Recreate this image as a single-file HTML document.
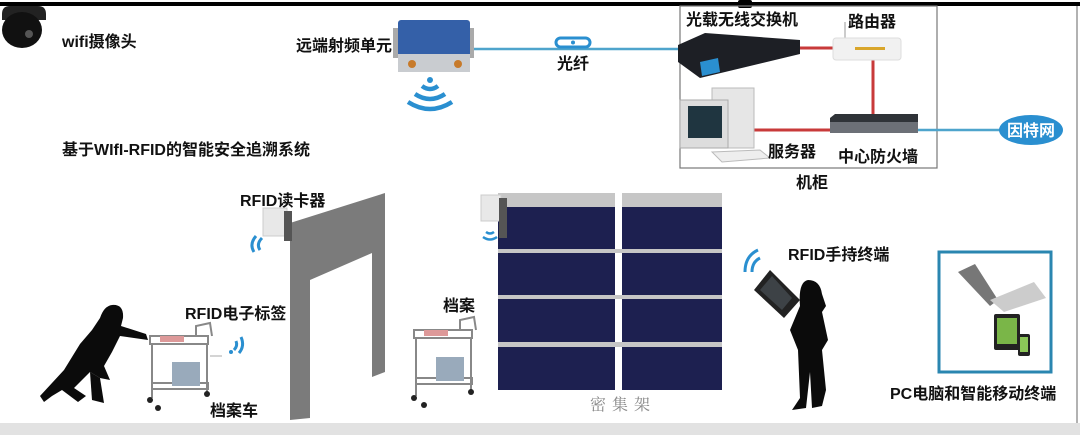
<!DOCTYPE html>
<html><head><meta charset="utf-8"><style>
html,body{margin:0;padding:0;background:#fff;}
svg{display:block;}
text{font-family:"Liberation Sans","Noto Sans CJK SC",sans-serif;font-weight:bold;fill:#111;font-size:16px;}
</style></head><body>
<svg width="1080" height="435" viewBox="0 0 1080 435" xmlns="http://www.w3.org/2000/svg">
<rect width="1080" height="435" fill="#fff"/>
<rect x="0" y="2" width="1080" height="4" fill="#000"/>
<rect x="738" y="0" width="14" height="8" rx="2" fill="#000"/>
<line x1="1077" y1="6" x2="1077" y2="425" stroke="#999" stroke-width="1.5"/>
<rect x="0" y="423" width="1080" height="12" fill="#e2e2e2"/>

<!-- camera -->
<path d="M2 14 Q2 6 10 6 L38 6 Q46 6 46 14 L46 20 L2 20 Z" fill="#222"/>
<ellipse cx="22" cy="30" rx="20" ry="18" fill="#111"/>
<circle cx="29" cy="34" r="4" fill="#555"/>
<text x="62" y="47" font-size="16">wifi摄像头</text>

<!-- remote RF unit -->
<text x="392" y="51" font-size="16" text-anchor="end">远端射频单元</text>
<rect x="393" y="28" width="14" height="30" fill="#aaa"/>
<rect x="460" y="28" width="14" height="30" fill="#aaa"/>
<rect x="398" y="20" width="72" height="40" rx="3" fill="#3460a8"/>
<rect x="398" y="54" width="72" height="18" fill="#c9ccd0"/>
<circle cx="412" cy="64" r="4" fill="#c77a2a"/><circle cx="458" cy="64" r="4" fill="#c77a2a"/>
<g fill="none" stroke="#2a8fd0" stroke-width="4.5">
<path d="M422 86 Q430 92 438 86"/>
<path d="M415 94 Q430 104 445 94"/>
<path d="M408 102 Q430 116 452 102"/>
</g>
<circle cx="430" cy="80" r="3" fill="#2a8fd0"/>

<!-- fiber -->
<line x1="474" y1="49" x2="680" y2="49" stroke="#4ea4cc" stroke-width="2.5"/>
<rect x="556" y="38" width="34" height="9" rx="4.5" fill="#fff" stroke="#2a8fd0" stroke-width="3"/>
<circle cx="573" cy="42.5" r="2" fill="#2a8fd0"/>
<text x="557" y="69" font-size="16">光纤</text>

<!-- cabinet -->
<rect x="680" y="6" width="257" height="162" fill="none" stroke="#777" stroke-width="1.2"/>
<text x="796" y="188" font-size="16">机柜</text>
<text x="686" y="25" font-size="16">光载无线交换机</text>
<text x="848" y="27" font-size="16">路由器</text>
<polygon points="678,45 705,33 800,40 800,54 700,78 678,62" fill="#1d1f25"/>
<polygon points="700,62 718,58 720,72 702,76" fill="#2a8fd0"/>
<line x1="800" y1="48" x2="835" y2="48" stroke="#c83a3a" stroke-width="3"/>
<line x1="873" y1="60" x2="873" y2="118" stroke="#c83a3a" stroke-width="3"/>
<line x1="752" y1="130" x2="830" y2="130" stroke="#c83a3a" stroke-width="3"/>
<line x1="845" y1="22" x2="845" y2="42" stroke="#bbb" stroke-width="1.5"/>
<rect x="833" y="38" width="68" height="22" rx="3" fill="#f1f1f1" stroke="#ddd"/>
<rect x="855" y="47" width="30" height="3" fill="#d9a62b"/>
<polygon points="830,118 835,114 918,114 918,126 830,133" fill="#2f3338"/>
<rect x="830" y="122" width="88" height="11" fill="#6c7077"/>
<rect x="712" y="88" width="42" height="60" fill="#e6e6e6" stroke="#bbb"/>
<rect x="680" y="100" width="48" height="48" fill="#ddd" stroke="#aaa"/>
<rect x="688" y="106" width="34" height="32" fill="#1f3540"/>
<polygon points="712,152 760,150 770,158 722,162" fill="#eee" stroke="#bbb"/>
<text x="768" y="157" font-size="16">服务器</text>
<text x="838" y="162" font-size="16">中心防火墙</text>
<line x1="918" y1="130" x2="1000" y2="130" stroke="#4ea4cc" stroke-width="2.5"/>
<ellipse cx="1031" cy="130" rx="32" ry="15" fill="#2a8fd0"/>
<text x="1031" y="136" font-size="15" text-anchor="middle" style="fill:#fff">因特网</text>

<text x="62" y="155" font-size="15.5">基于WIfI-RFID的智能安全追溯系统</text>

<!-- door -->
<path d="M290 223 L385 193 L385 372 L372 377 L372 253 L310 280 L310 418 L290 420 Z" fill="#7b7b7b"/>
<text x="240" y="206" font-size="16">RFID读卡器</text>
<rect x="263" y="208" width="24" height="28" fill="#e8e8e8" stroke="#ccc"/>
<rect x="284" y="211" width="8" height="30" fill="#555"/>
<g fill="none" stroke="#2a8fd0" stroke-width="3">
<path d="M262 238 Q256 244 260 250"/><path d="M256 236 Q249 244 254 252"/>
</g>

<!-- racks -->
<g>
<rect x="498" y="193" width="117" height="14" fill="#c6c6c6"/>
<rect x="622" y="193" width="100" height="14" fill="#c6c6c6"/>
<rect x="498" y="207" width="117" height="42" fill="#1d2050"/>
<rect x="622" y="207" width="100" height="42" fill="#1d2050"/>
<rect x="498" y="253" width="117" height="42" fill="#1d2050"/>
<rect x="622" y="253" width="100" height="42" fill="#1d2050"/>
<rect x="498" y="299" width="117" height="43" fill="#1d2050"/>
<rect x="622" y="299" width="100" height="43" fill="#1d2050"/>
<rect x="498" y="347" width="117" height="43" fill="#1d2050"/>
<rect x="622" y="347" width="100" height="43" fill="#1d2050"/>
<rect x="498" y="249" width="224" height="4" fill="#c6c6c6"/>
<rect x="498" y="295" width="224" height="4" fill="#c6c6c6"/>
<rect x="498" y="342" width="224" height="5" fill="#c6c6c6"/>
</g>
<text x="590" y="410" font-size="14" style="font-weight:normal;fill:#888;font-family:'Liberation Serif','Noto Serif CJK SC',serif" letter-spacing="6">密集架</text>
<rect x="481" y="195" width="20" height="26" fill="#e8e8e8" stroke="#ccc"/>
<rect x="499" y="198" width="8" height="40" fill="#555"/>
<g fill="none" stroke="#2a8fd0" stroke-width="2.5">
<path d="M486 232 Q490 235 494 232"/><path d="M483 237 Q490 242 497 237"/>
</g>
<text x="443" y="311" font-size="16">档案</text>

<!-- carts -->
<g fill="none" stroke="#888" stroke-width="2">
<rect x="150" y="336" width="58" height="8"/>
<rect x="152" y="383" width="56" height="6"/>
<line x1="152" y1="344" x2="152" y2="398"/><line x1="207" y1="344" x2="207" y2="392"/>
<path d="M196 336 L196 326 L210 323 L212 336"/>
<rect x="414" y="330" width="58" height="8"/>
<rect x="416" y="378" width="56" height="6"/>
<line x1="416" y1="338" x2="416" y2="396"/><line x1="471" y1="338" x2="471" y2="390"/>
<path d="M460 330 L460 320 L474 317 L476 330"/>
</g>
<rect x="172" y="362" width="28" height="24" fill="#9ab"/><rect x="436" y="357" width="28" height="24" fill="#9ab"/>
<rect x="160" y="336" width="24" height="6" fill="#d99"/><rect x="424" y="330" width="24" height="6" fill="#d99"/>
<g fill="#222"><circle cx="150" cy="400" r="3"/><circle cx="158" cy="408" r="3"/><circle cx="207" cy="394" r="3"/><circle cx="414" cy="398" r="3"/><circle cx="424" cy="405" r="3"/><circle cx="471" cy="392" r="3"/></g>
<text x="185" y="319" font-size="16">RFID电子标签</text>
<g fill="none" stroke="#2a8fd0" stroke-width="3">
<path d="M234 350 Q238 346 236 341"/><path d="M239 353 Q245 346 241 337"/>
</g>
<circle cx="231" cy="352" r="2" fill="#2a8fd0"/>
<line x1="210" y1="356" x2="222" y2="356" stroke="#aaa"/>
<text x="210" y="416" font-size="16">档案车</text>

<!-- man -->
<path d="M112 305 Q124 304 123 318 L121 326 L146 334 L148 340 L120 336 L112 352 L104 366 L110 380 L100 378 L90 372 L74 388 L86 396 L78 402 L62 390 L52 396 L44 402 L40 396 L64 370 L80 344 L92 330 L100 318 Q104 306 112 305 Z" fill="#0b0b0b"/>
<path d="M90 372 L92 400 L104 403 L100 378 Z" fill="#0b0b0b"/>

<!-- woman + phone -->
<path d="M808 280 Q820 280 822 294 L826 306 L822 312 L828 340 L822 350 L826 390 L822 406 L812 408 L810 372 L806 408 L792 410 L800 398 L798 350 L790 330 L800 306 Q798 282 808 280 Z" fill="#0b0b0b"/>
<polygon points="754,290 770,270 800,300 784,318" fill="#222"/>
<polygon points="760,290 772,276 792,298 782,310" fill="#3d4246"/>
<g fill="none" stroke="#2a8fd0" stroke-width="3">
<path d="M752 272 Q752 262 760 258"/><path d="M745 272 Q745 256 758 250"/>
</g>
<text x="788" y="260" font-size="16">RFID手持终端</text>

<!-- PC box -->
<rect x="939" y="252" width="112" height="120" fill="#fff" stroke="#2a86b0" stroke-width="3"/>
<polygon points="958,272 975,264 998,300 990,306" fill="#777"/>
<polygon points="990,300 1034,282 1046,298 1004,312" fill="#ccc"/>
<rect x="994" y="314" width="26" height="36" rx="2" fill="#222"/>
<rect x="997" y="318" width="20" height="26" fill="#7ab648"/>
<rect x="1018" y="334" width="12" height="22" rx="2" fill="#222"/>
<rect x="1020" y="337" width="8" height="15" fill="#8cc658"/>
<text x="890" y="399" font-size="16">PC电脑和智能移动终端</text>
</svg>
</body></html>
